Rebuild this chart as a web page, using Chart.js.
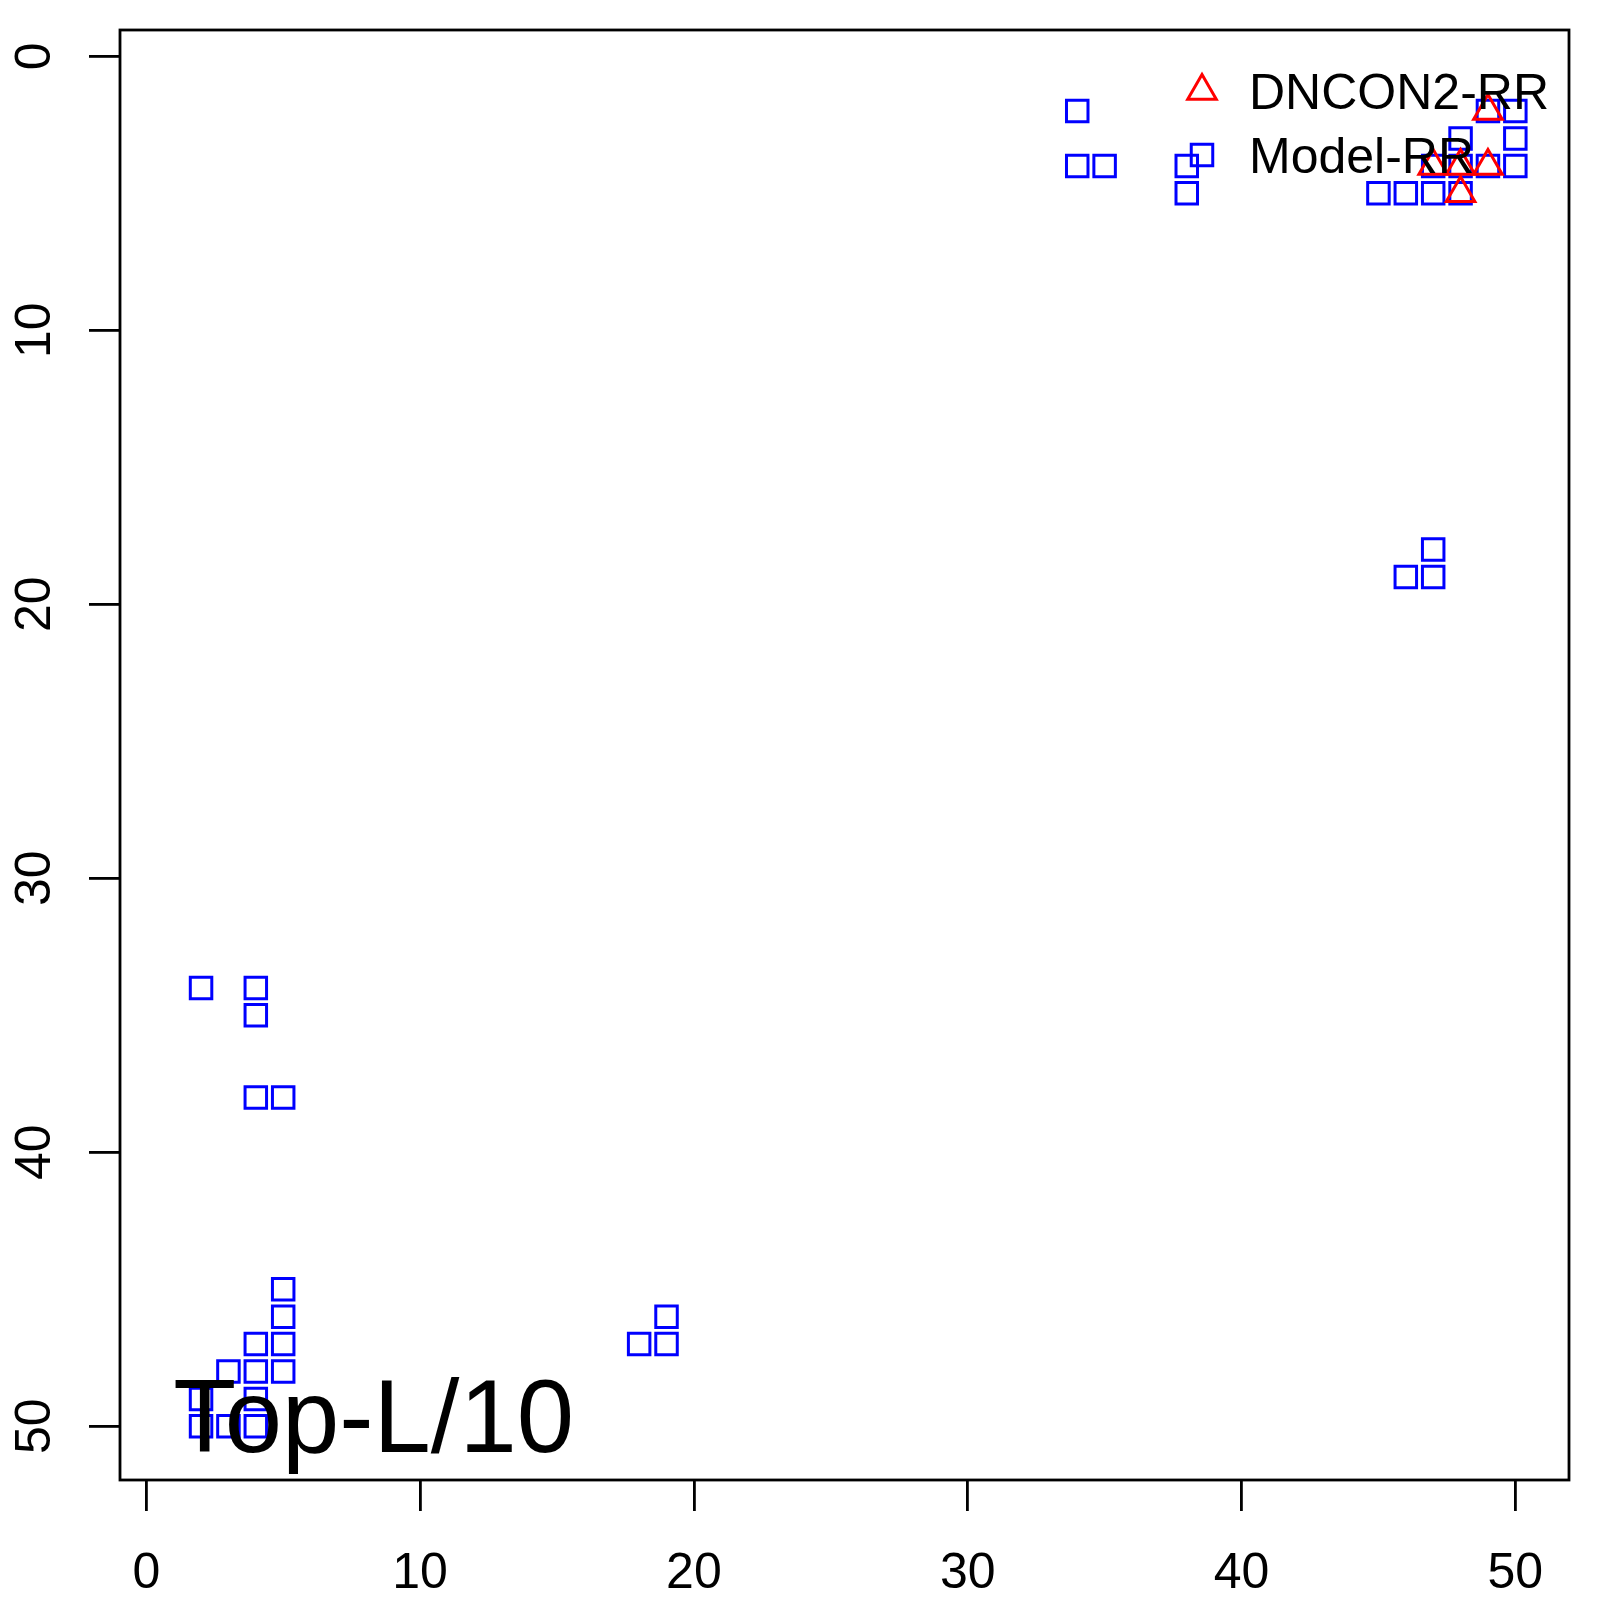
<!DOCTYPE html>
<html>
<head>
<meta charset="utf-8">
<script src="https://cdn.jsdelivr.net/npm/chart.js@4.4.1/dist/chart.umd.min.js"></script>
<style>
  html, body { margin: 0; padding: 0; background: #fff; }
  canvas { display: block; }
</style>
</head>
<body>
<canvas id="contactMap" width="1600" height="1600"></canvas>
<script>
// DNCON2-RR predicted contacts (residue i, residue j)
const dnconX = [49, 47, 48, 49, 48];
const dnconY = [2, 4, 4, 4, 5];

// Model-RR contacts
const modelX = [34, 34, 35, 38, 38, 45, 46, 47, 48, 47, 48, 49, 50, 48, 50, 49, 50,
                46, 47, 47,
                2, 4, 4, 4, 5,
                5, 5, 4, 5, 3, 4, 5, 2, 4, 2, 3, 4,
                18, 19, 19];
const modelY = [2, 4, 4, 4, 5, 5, 5, 5, 5, 4, 4, 4, 4, 3, 3, 2, 2,
                19, 19, 18,
                34, 34, 35, 38, 38,
                45, 46, 47, 47, 48, 48, 48, 49, 49, 50, 50, 50,
                47, 47, 46];

const xTicks = [0, 10, 20, 30, 40, 50];
const yTicks = [0, 10, 20, 30, 40, 50];
const seriesNames = ["DNCON2-RR", "Model-RR"];
const panelLabel = "Top-L/10";

const FONT = "'Liberation Sans', Arial, Helvetica, sans-serif";

function toPoints(xs, ys) {
    return xs.map((x, i) => ({ x: x, y: ys[i] }));
}

function markerPath(ctx, style, x, y, r) {
    ctx.beginPath();
    if (style === "triangle") {
        ctx.moveTo(x, y - r);
        ctx.lineTo(x + r * Math.sin(2 * Math.PI / 3), y + r / 2);
        ctx.lineTo(x - r * Math.sin(2 * Math.PI / 3), y + r / 2);
        ctx.closePath();
    } else {
        const s = Math.SQRT1_2 * r;
        ctx.rect(x - s, y - s, 2 * s, 2 * s);
    }
}

// frame, panel label and the R-style legend (no box)
const extrasPlugin = {
    id: "extras",
    afterDatasetsDraw(chart) {
        const ctx = chart.ctx;
        const area = chart.chartArea;
        const xs = chart.scales.x;
        const ys = chart.scales.y;

        ctx.save();
        ctx.strokeStyle = "#000";
        ctx.lineWidth = 2.8;
        ctx.strokeRect(area.left, area.top, area.right - area.left, area.bottom - area.top);

        // panel label
        const labelSize = 103;
        ctx.font = labelSize + "px " + FONT;
        ctx.fillStyle = "#000";
        ctx.textAlign = "center";
        ctx.textBaseline = "alphabetic";
        ctx.fillText(panelLabel, xs.getPixelForValue(8.3), ys.getPixelForValue(49.6) + labelSize * 0.36);

        // legend
        ctx.font = "50px " + FONT;
        ctx.textAlign = "left";
        chart.data.datasets.forEach((ds, i) => {
            const cy = area.top + 61 + i * 64;
            const mx = area.right - 367;
            ctx.strokeStyle = ds.borderColor;
            ctx.lineWidth = ds.pointBorderWidth;
            markerPath(ctx, ds.pointStyle, mx, cy, ds.pointRadius);
            ctx.stroke();
            ctx.fillStyle = "#000";
            ctx.fillText(ds.label, area.right - 320, cy + 17.5);
        });
        ctx.restore();
    }
};

function noScalePadding(scale) {
    scale.paddingTop = 0;
    scale.paddingBottom = 0;
    scale.paddingLeft = 0;
    scale.paddingRight = 0;
}

const axisBase = {
    type: "linear",
    min: -0.96,
    max: 51.96,
    border: { display: false },
    grid: {
        drawOnChartArea: false,
        drawTicks: true,
        tickLength: 31,
        lineWidth: 2.8,
        color: "#000"
    }
};

new Chart(document.getElementById("contactMap"), {
    type: "scatter",
    data: {
        datasets: [
            {
                label: seriesNames[0],
                data: toPoints(dnconX, dnconY),
                pointStyle: "triangle",
                pointRadius: 16.5,
                pointBorderWidth: 3,
                borderColor: "#ff0000",
                backgroundColor: "rgba(0,0,0,0)",
                pointHoverRadius: 16.5
            },
            {
                label: seriesNames[1],
                data: toPoints(modelX, modelY),
                pointStyle: "rect",
                pointRadius: 15.2,
                pointBorderWidth: 3,
                borderColor: "#0000ff",
                backgroundColor: "rgba(0,0,0,0)",
                pointHoverRadius: 15.2
            }
        ]
    },
    options: {
        responsive: false,
        animation: false,
        devicePixelRatio: 1,
        layout: { padding: { top: 30, right: 31, left: 0, bottom: 0 } },
        plugins: {
            legend: { display: false },
            tooltip: { enabled: false }
        },
        scales: {
            x: Object.assign({}, axisBase, {
                position: "bottom",
                afterBuildTicks: scale => { scale.ticks = xTicks.map(v => ({ value: v })); },
                afterFit: scale => { scale.height = 120; noScalePadding(scale); },
                ticks: {
                    autoSkip: false,
                    maxRotation: 0,
                    padding: 33,
                    color: "#000",
                    font: { family: FONT, size: 50 }
                }
            }),
            y: Object.assign({}, axisBase, {
                position: "left",
                reverse: true,
                afterBuildTicks: scale => { scale.ticks = yTicks.map(v => ({ value: v })); },
                afterFit: scale => { scale.width = 120; noScalePadding(scale); },
                ticks: {
                    autoSkip: false,
                    minRotation: 90,
                    maxRotation: 90,
                    crossAlign: "center",
                    padding: 25,
                    color: "#000",
                    font: { family: FONT, size: 50 }
                }
            })
        }
    },
    plugins: [extrasPlugin]
});
</script>
</body>
</html>
